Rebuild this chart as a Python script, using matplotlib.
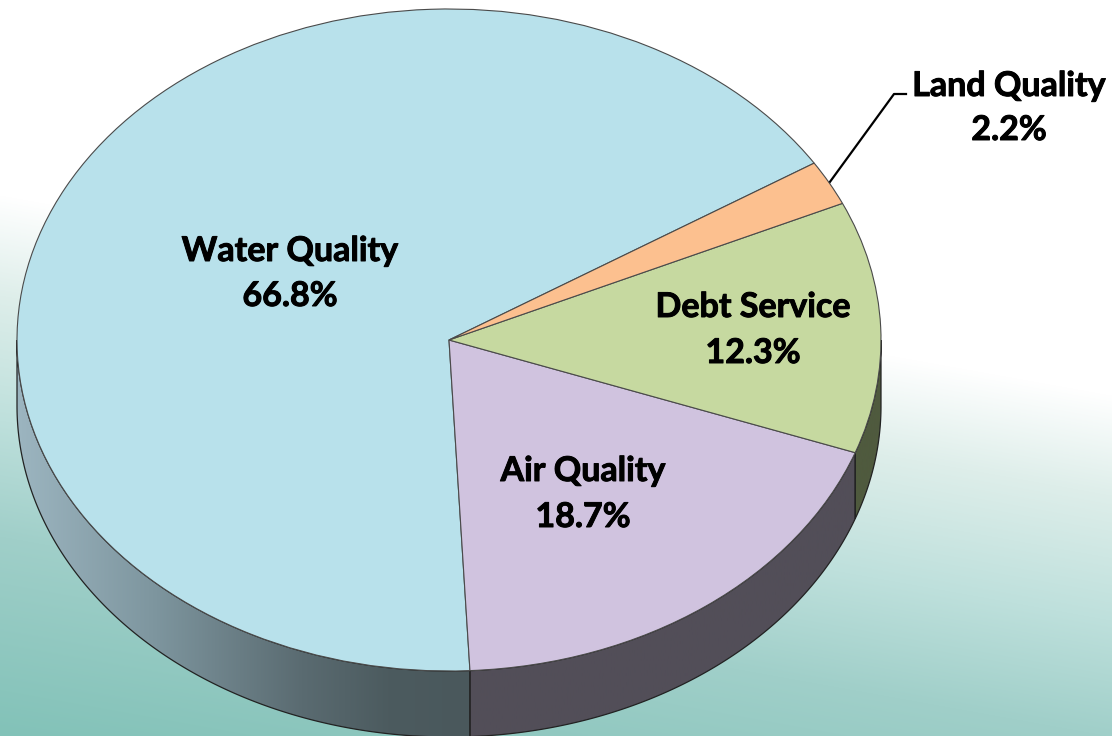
import matplotlib
matplotlib.use("Agg")
import matplotlib.pyplot as plt
import matplotlib.patheffects as pe
from matplotlib.patches import Polygon
import numpy as np

categories = ["Water Quality", "Air Quality", "Debt Service", "Land Quality"]
shares = [66.8, 18.7, 12.3, 2.2]
pie_colors = ["#b8e1eb", "#d0c3df", "#c6d9a0", "#fcc08f"]

W, H = 1112, 736
cx, cy = 449, 340     # pie centre in pixels
rx, ry = 432, 331     # ellipse radii
depth = 66
start = 32.3

plt.rcParams['font.family'] = ['Lato', 'DejaVu Sans']

fig = plt.figure(figsize=(W / 100, H / 100), dpi=100)

# background and side walls live in pixel coords
ax = fig.add_axes([0, 0, 1, 1])
ax.set_xlim(0, W)
ax.set_ylim(H, 0)
ax.axis("off")

# tilted white -> teal wash
yy, xx = np.mgrid[0:H, 0:W]
t = yy - 195 - 0.18 * xx
stops = [0, 100, 225, 341, 541]
bg = np.dstack([
    np.interp(t, stops, [255, 222, 190, 160, 130]),
    np.interp(t, stops, [255, 238, 224, 207, 194]),
    np.interp(t, stops, [255, 234, 220, 201, 184]),
]) / 255
ax.imshow(bg, extent=(0, W, H, 0), aspect="auto", zorder=0)


def edge(deg):
    a = np.radians(deg)
    return cx + rx * np.cos(a), cy - ry * np.sin(a)


def wall(a0, a1, pos, rgb):
    angs = np.linspace(a0, a1, 200)
    x, y = edge(angs)
    pts = np.vstack([np.column_stack([x, y]),
                     np.column_stack([x[::-1], y[::-1] + depth])])
    poly = Polygon(pts, closed=True, facecolor="none", edgecolor="#222222", lw=0.9, zorder=3)
    ax.add_patch(poly)
    g = np.linspace(0, 1, 256)
    rgb = np.array(rgb, dtype=float)
    img = np.dstack([np.interp(g, pos, rgb[:, i]) for i in range(3)]) / 255
    im = ax.imshow(img, extent=(x.min(), x.max(), H + 5, 0), aspect="auto", zorder=2)
    im.set_clip_path(poly)


ends = start + np.cumsum([0] + shares) * 3.6
wall(180, ends[1], [0, 0.3, 0.63, 0.82, 1],
     [(156, 181, 192), (126, 150, 159), (90, 107, 113), (76, 91, 95), (74, 88, 92)])
wall(ends[1], ends[2], [0, 1], [(82, 78, 88), (82, 78, 88)])
wall(ends[2], 360, [0, 1], [(79, 90, 62), (79, 90, 62)])
ax.set_xlim(0, W)
ax.set_ylim(H, 0)

# leader for the thin slice
lx, ly = edge((ends[3] + ends[4]) / 2)
ax.plot([lx, 894, 906], [ly, 94, 94], color="black", lw=1.6, zorder=4)

# the pie itself, squashed to an ellipse by the axes limits
ax2 = fig.add_axes([0, 0, 1, 1])
ax2.patch.set_alpha(0)
ax2.pie(shares, colors=pie_colors, startangle=start, counterclock=True, radius=1,
        wedgeprops={"edgecolor": "#4a4a4a", "linewidth": 0.8})
ax2.set_aspect("auto")
ax2.set_xlim(-cx / rx, (W - cx) / rx)
ax2.set_ylim((cy - H) / ry, cy / ry)

label_pos = [(290, 251, 296), (583, 471, 517), (753, 307, 353), (1009, 86, 130)]
thick = [pe.withStroke(linewidth=0.7, foreground="black")]
for name, val, (x, y1, y2) in zip(categories, shares, label_pos):
    for txt, y in ((name, y1), (f"{val}%", y2)):
        fig.text(x / W, 1 - y / H, txt, ha="center", va="center", fontsize=24.5,
                 fontweight="bold", color="black", path_effects=thick)

fig.savefig("out.png", dpi=100)
